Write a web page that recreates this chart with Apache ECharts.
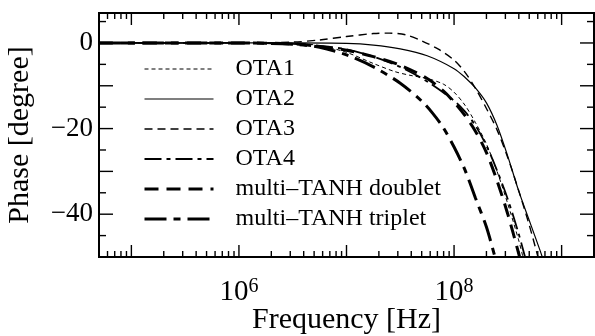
<!DOCTYPE html>
<html>
<head>
<meta charset="utf-8">
<script src="https://cdn.jsdelivr.net/npm/echarts@6/dist/echarts.min.js"></script>
<style>
  html, body { margin: 0; padding: 0; background: #fff; }
  #chart { width: 595px; height: 336px; }
</style>
</head>
<body>
<div id="chart"></div>
<script>
// Phase response of the OTA variants and the multi-TANH cells (Hz, degrees)
const seriesNames = ['OTA1', 'OTA2', 'OTA3', 'OTA4', 'multi–TANH doublet', 'multi–TANH triplet'];

const ota1Freq  = [5e4, 1e6, 3.16e6, 5.62e6, 1e7,  1.78e7, 2.82e7, 3.98e7, 5.62e7, 7.94e7, 1e8,   1.26e8, 1.58e8, 2e8,   2.51e8, 3.16e8, 3.98e8, 4.37e8];
const ota1Phase = [0,   0,   -0.1,   -0.6,   -2.2, -4.8,   -6.7,   -7.6,   -8.3,   -9.6,   -11.5, -14.5,  -18.6,  -23.6, -30.0,  -37.6,  -46.0,  -50];

const ota2Freq  = [5e4, 1e6, 3.16e6, 1e7,  1.78e7, 3.16e7, 5.62e7, 1e8,  1.26e8, 1.58e8, 2e8,   2.51e8, 3.16e8, 3.98e8, 5.01e8, 6.31e8, 6.61e8];
const ota2Phase = [0,   0,   0,      -0.1, -0.5,   -1.4,   -3.0,   -6.0, -8.0,   -10.5,  -14.0, -19.3,  -26.5,  -34.5,  -41.5,  -48.5,  -50];

const ota3Freq  = [5e4, 1e6, 3.16e6, 5.62e6, 1e7, 1.78e7, 2.51e7, 3.55e7, 5.01e7, 7.08e7, 1e8,  1.26e8, 1.58e8, 2e8,   2.51e8, 3.16e8, 3.98e8, 5.01e8, 6.03e8];
const ota3Phase = [0,   0,   0.2,    0.7,    1.5, 2.2,    2.3,    1.9,    0.5,    -1.4,   -4.0, -6.8,   -10.6,  -15.3, -20.3,  -26.8,  -34.4,  -42.6,  -50];

const ota4Freq  = [5e4, 1e6, 3.16e6, 5.62e6, 1e7,  1.78e7, 3.16e7, 5.62e7, 1e8,   1.26e8, 1.58e8, 2e8,   2.51e8, 3.16e8, 3.98e8, 4.57e8];
const ota4Phase = [0,   0,   -0.2,   -0.7,   -1.5, -3.2,   -5.6,   -9.0,   -13.5, -16.0,  -19.3,  -24.0, -29.8,  -36.5,  -44.5,  -50];

const doubletFreq  = [5e4, 1e6, 3.16e6, 5.62e6, 1e7,  1.78e7, 3.16e7, 5.62e7, 7.94e7, 1e8,   1.26e8, 1.58e8, 2e8,   2.51e8, 3.16e8, 4.07e8];
const doubletPhase = [0,   0,   -0.2,   -0.8,   -1.7, -3.2,   -5.2,   -8.3,   -11.2,  -13.8, -16.9,  -20.6,  -25.6, -32.2,  -40.0,  -50];

const tripletFreq  = [5e4, 1e6, 3.16e6, 5.62e6, 1e7,  1.78e7, 3.16e7, 5.01e7, 6.31e7, 7.94e7, 1e8,   1.26e8, 1.58e8, 2e8,   2.4e8];
const tripletPhase = [0,   0,   -0.3,   -1.0,   -2.8, -5.6,   -9.4,   -13.6,  -16.4,  -19.8,  -24.3, -29.6,  -36.2,  -43.0, -50];

// Axis ranges and labelled ticks
const freqMin = 5e4, freqMax = 2e9;
const phaseMin = -50, phaseMax = 7;
const freqLabelExponents = [6, 8];
const phaseLabels = [0, -20, -40];

const FONT = '"Liberation Serif", "Times New Roman", serif';

function pairs(xs, ys) { return xs.map((x, i) => [x, ys[i]]); }

// Tick positions: decades are major, 2..9 within a decade are minor
const freqTicks = [];
for (let d = 4; d <= 9; d++) {
  for (let k = 1; k <= 9; k++) {
    const v = k * Math.pow(10, d);
    if (v > freqMin && v < freqMax) freqTicks.push([v, phaseMin, k === 1 ? 1 : 0]);
  }
}
const phaseTicks = [];
for (let p = -45; p <= 5; p += 5) phaseTicks.push([freqMin, p, p % 10 === 0 ? 1 : 0]);

const tickStyle = { stroke: '#000', lineWidth: 1.4 };

const lineStyles = [
  { width: 1.0, type: [4, 3] },
  { width: 1.2, type: 'solid' },
  { width: 1.4, type: [8, 5] },
  { width: 1.8, type: [17, 5, 4, 5] },
  { width: 3.0, type: [14, 8] },
  { width: 3.0, type: [22, 7, 7, 7] }
];
const seriesData = [
  pairs(ota1Freq, ota1Phase),
  pairs(ota2Freq, ota2Phase),
  pairs(ota3Freq, ota3Phase),
  pairs(ota4Freq, ota4Phase),
  pairs(doubletFreq, doubletPhase),
  pairs(tripletFreq, tripletPhase)
];

const lineSeries = seriesNames.map((name, i) => ({
  name,
  type: 'line',
  data: seriesData[i],
  symbol: 'none',
  smooth: 0.3,
  color: '#000',
  itemStyle: { color: '#000', opacity: 0 },
  lineStyle: Object.assign({ color: '#000', cap: 'butt' }, lineStyles[i]),
  animation: false,
  z: 3
}));

const chart = echarts.init(document.getElementById('chart'), null, { renderer: 'canvas' });
chart.setOption({
  backgroundColor: '#fff',
  animation: false,
  grid: {
    left: 99, right: 1, top: 13, bottom: 79,
    containLabel: false,
    outerBoundsMode: 'none',
    show: true, borderColor: '#000', borderWidth: 2, backgroundColor: 'transparent'
  },
  legend: {
    data: seriesNames,
    orient: 'vertical',
    left: 143, top: 57,
    padding: 0,
    itemWidth: 69, itemHeight: 24, itemGap: 6,
    itemStyle: { opacity: 0 },
    lineStyle: { width: 'inherit' },
    textStyle: { fontFamily: FONT, fontSize: 24, color: '#000', padding: [0, 0, 0, 17], lineHeight: 24 },
    selectedMode: false
  },
  xAxis: {
    type: 'log',
    logBase: 10,
    min: freqMin, max: freqMax,
    name: 'Frequency [Hz]',
    nameLocation: 'middle',
    nameGap: 48,
    nameMoveOverlap: false,
    nameTextStyle: { fontFamily: FONT, fontSize: 30, color: '#000' },
    axisLine: { show: false },
    axisTick: { show: false },
    splitLine: { show: false },
    minorTick: { show: false },
    axisLabel: {
      margin: 20,
      showMinLabel: false, showMaxLabel: false,
      formatter: function (v) {
        const e = Math.round(Math.log10(v));
        if (Math.abs(Math.log10(v) - e) < 1e-6 && freqLabelExponents.indexOf(e) >= 0) {
          return '{b|10}{s|' + e + '}';
        }
        return '';
      },
      rich: {
        b: { fontFamily: FONT, fontSize: 29, color: '#000', verticalAlign: 'bottom', lineHeight: 30 },
        s: { fontFamily: FONT, fontSize: 20, color: '#000', verticalAlign: 'top', lineHeight: 20, padding: [0, 0, 12, 0] }
      }
    }
  },
  yAxis: {
    type: 'value',
    min: phaseMin, max: phaseMax,
    interval: 10,
    name: 'Phase [degree]',
    nameLocation: 'middle',
    nameGap: 64,
    nameMoveOverlap: false,
    nameTextStyle: { fontFamily: FONT, fontSize: 30, color: '#000' },
    axisLine: { show: false },
    axisTick: { show: false },
    splitLine: { show: false },
    axisLabel: {
      margin: 6,
      fontFamily: FONT, fontSize: 27, color: '#000',
      formatter: function (v) {
        if (phaseLabels.indexOf(v) < 0) return '';
        return v === 0 ? '0' : '−' + Math.abs(v);
      }
    }
  },
  series: lineSeries.concat([
    {
      name: 'freqTicks',
      type: 'custom',
      data: freqTicks,
      silent: true,
      z: 5,
      renderItem: function (params, api) {
        const p = api.coord([api.value(0), phaseMin]);
        const cs = params.coordSys;
        const len = api.value(2) ? 12 : 6;
        const yb = cs.y + cs.height, yt = cs.y;
        return {
          type: 'group',
          children: [
            { type: 'line', shape: { x1: p[0], y1: yb, x2: p[0], y2: yb - len }, style: tickStyle },
            { type: 'line', shape: { x1: p[0], y1: yt, x2: p[0], y2: yt + len }, style: tickStyle }
          ]
        };
      }
    },
    {
      name: 'phaseTicks',
      type: 'custom',
      data: phaseTicks,
      silent: true,
      z: 5,
      renderItem: function (params, api) {
        const p = api.coord([freqMin, api.value(1)]);
        const cs = params.coordSys;
        const len = api.value(2) ? 14 : 7;
        const xl = cs.x, xr = cs.x + cs.width;
        return {
          type: 'group',
          children: [
            { type: 'line', shape: { x1: xl, y1: p[1], x2: xl + len, y2: p[1] }, style: tickStyle },
            { type: 'line', shape: { x1: xr, y1: p[1], x2: xr - len, y2: p[1] }, style: tickStyle }
          ]
        };
      }
    }
  ])
});
</script>
</body>
</html>
